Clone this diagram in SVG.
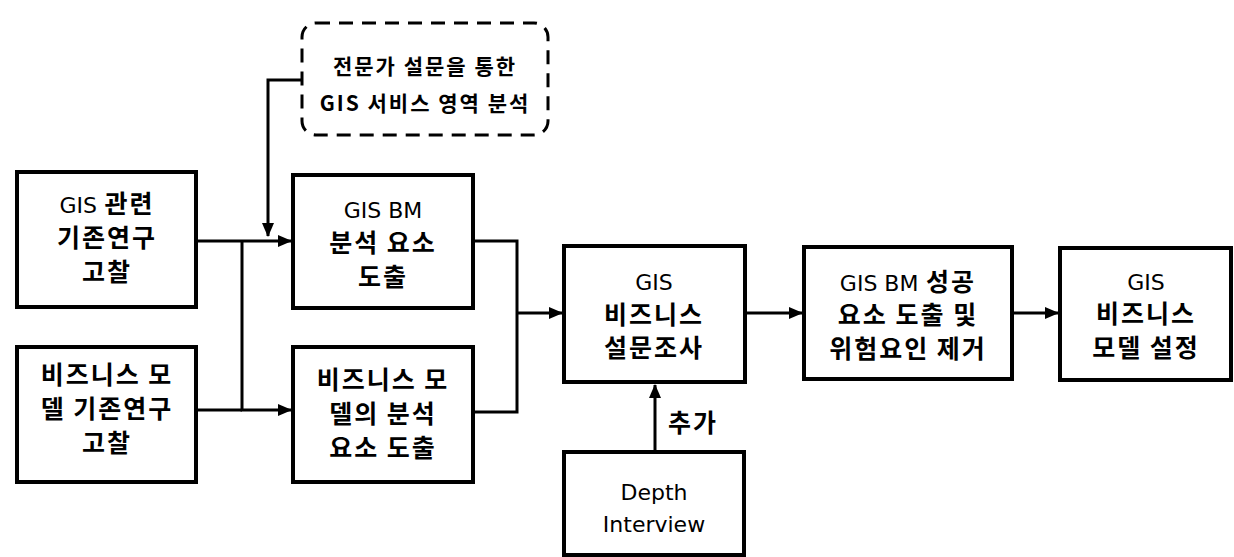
<svg xmlns="http://www.w3.org/2000/svg" width="1234" height="557" viewBox="0 0 1234 557">
<style>
.box{fill:#fff;stroke:#000;stroke-width:4;stroke-linejoin:miter}
.dash{fill:#fff;stroke:#000;stroke-width:3;stroke-dasharray:14 9}
.ln{fill:none;stroke:#000;stroke-width:3}
.t{font-family:"Noto Sans CJK KR","Noto Sans",sans-serif;font-weight:700;font-size:25px;letter-spacing:2px;fill:#000;text-anchor:middle}
.lat{font-family:"DejaVu Sans","Noto Sans",sans-serif;font-weight:400;font-size:22px;letter-spacing:0}
.s{font-size:21px;letter-spacing:2px}
</style>
<defs>
<marker id="ah" markerUnits="userSpaceOnUse" markerWidth="14" markerHeight="12" refX="13" refY="6" orient="auto">
<path d="M0,0 L14,6 L0,12 z" fill="#000"/>
</marker>
</defs>
<rect width="1234" height="557" fill="#fff"/>
<g id="connectors">
<path class="ln" d="M302,80 H268 V236" marker-end="url(#ah)"/>
<path class="ln" d="M196,241 H291" marker-end="url(#ah)"/>
<path class="ln" d="M242,241 V410 H291" marker-end="url(#ah)"/>
<path class="ln" d="M196,410 H242"/>
<path class="ln" d="M473,241 H517 V412 H473"/>
<path class="ln" d="M517,313 H562" marker-end="url(#ah)"/>
<path class="ln" d="M745,313 H802" marker-end="url(#ah)"/>
<path class="ln" d="M1012,313 H1058" marker-end="url(#ah)"/>
<path class="ln" d="M655,452 V385" marker-end="url(#ah)"/>
<text class="t" x="693" y="432">추가</text>
</g>
<g id="expert">
<rect class="dash" x="302" y="23" width="246" height="112" rx="14"/>
<text class="t s" x="425" y="74">전문가 설문을 통한</text>
<text class="t s" x="425" y="111">GIS 서비스 영역 분석</text>
</g>
<g id="gis-prior">
<rect class="box" x="17" y="172" width="179" height="135"/>
<text class="t" x="107" y="213"><tspan class="lat">GIS</tspan> 관련</text>
<text class="t" x="107" y="247">기존연구</text>
<text class="t" x="107" y="281">고찰</text>
</g>
<g id="bm-prior">
<rect class="box" x="17" y="347" width="179" height="135"/>
<text class="t" x="107" y="384">비즈니스 모</text>
<text class="t" x="107" y="418">델 기존연구</text>
<text class="t" x="107" y="452">고찰</text>
</g>
<g id="gis-bm-elements">
<rect class="box" x="293" y="175" width="180" height="133"/>
<text class="t" x="383" y="218"><tspan class="lat">GIS BM</tspan></text>
<text class="t" x="383" y="252">분석 요소</text>
<text class="t" x="383" y="286">도출</text>
</g>
<g id="bm-elements">
<rect class="box" x="293" y="347" width="180" height="135"/>
<text class="t" x="383" y="389">비즈니스 모</text>
<text class="t" x="383" y="423">델의 분석</text>
<text class="t" x="383" y="457">요소 도출</text>
</g>
<g id="survey">
<rect class="box" x="564" y="246" width="181" height="136"/>
<text class="t" x="654" y="290"><tspan class="lat">GIS</tspan></text>
<text class="t" x="654" y="324">비즈니스</text>
<text class="t" x="654" y="357">설문조사</text>
</g>
<g id="depth">
<rect class="box" x="564" y="452" width="180" height="103"/>
<text class="t" x="654" y="500"><tspan class="lat">Depth</tspan></text>
<text class="t" x="654" y="532"><tspan class="lat">Interview</tspan></text>
</g>
<g id="success">
<rect class="box" x="804" y="247" width="208" height="132"/>
<text class="t" x="908" y="291"><tspan class="lat">GIS BM</tspan> 성공</text>
<text class="t" x="908" y="324">요소 도출 및</text>
<text class="t" x="908" y="358">위험요인 제거</text>
</g>
<g id="model">
<rect class="box" x="1060" y="248" width="171" height="132"/>
<text class="t" x="1146" y="290"><tspan class="lat">GIS</tspan></text>
<text class="t" x="1146" y="323">비즈니스</text>
<text class="t" x="1146" y="357">모델 설정</text>
</g>
</svg>
